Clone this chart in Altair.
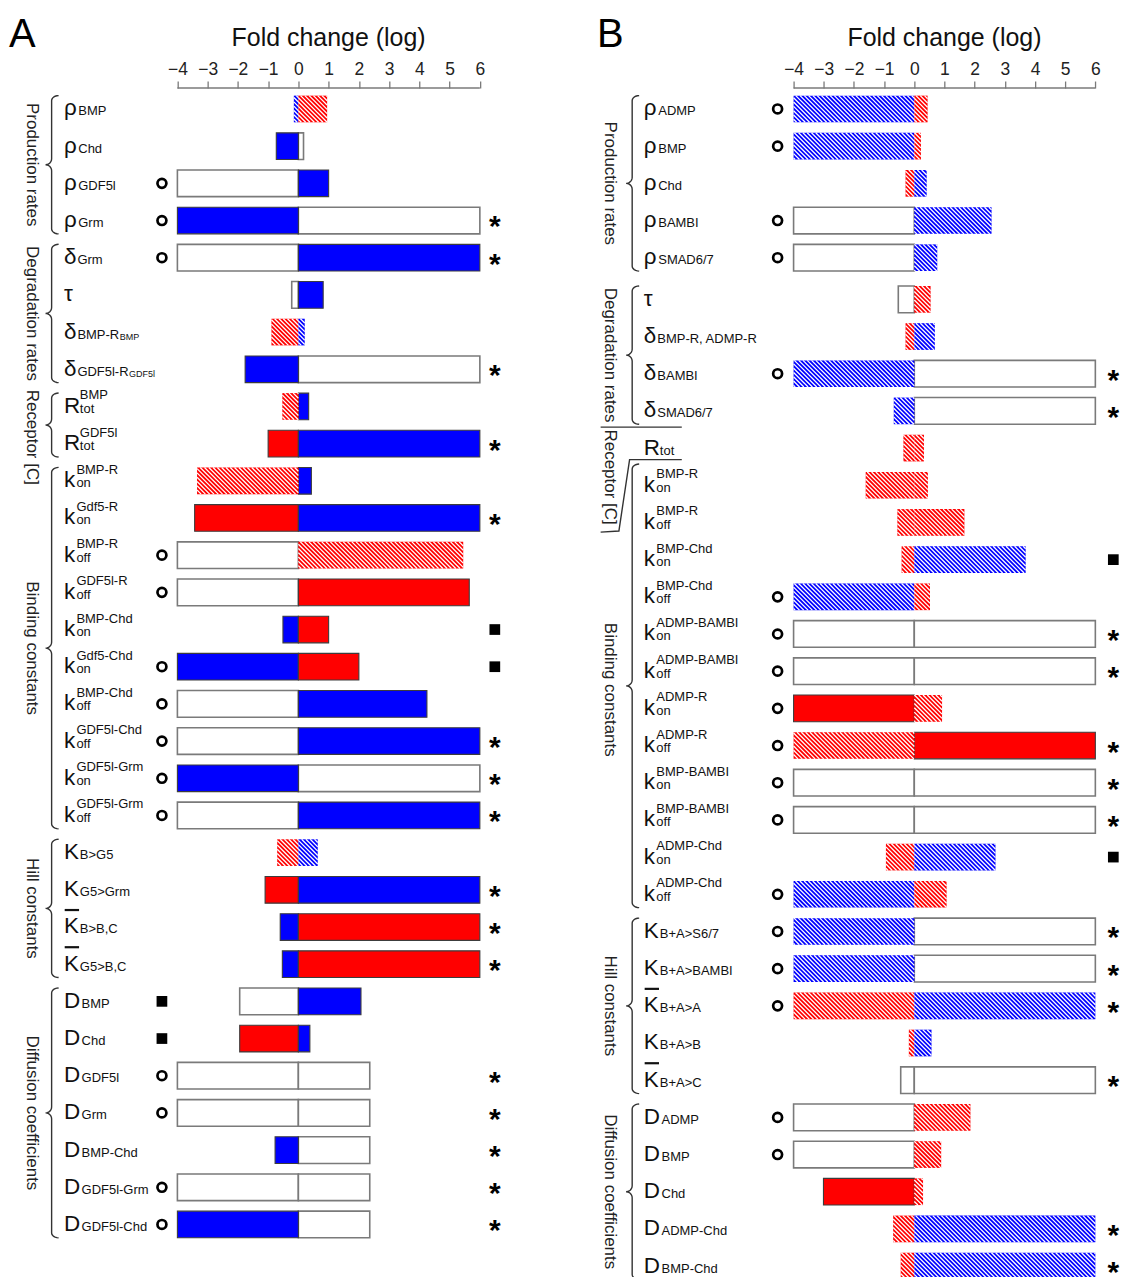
import altair as alt
import pandas as pd
import numpy as np

FONT = "Liberation Sans"
TICKS = [-4, -3, -2, -1, 0, 1, 2, 3, 4, 5, 6]
AXIS_TITLE = "Fold change (log)"

# ---------------- Panel A data ----------------
A_main = ["ρ", "ρ", "ρ", "ρ", "δ", "τ", "δ", "δ", "R", "R",
          "k", "k", "k", "k", "k", "k", "k", "k", "k", "k",
          "K", "K", "K\u0304", "K\u0304", "D", "D", "D", "D", "D", "D", "D"]
A_sub = ["BMP", "Chd", "GDF5l", "Grm", "Grm", "", "BMP-R", "GDF5l-R", "tot", "tot",
         "on", "on", "off", "off", "on", "on", "off", "off", "on", "off",
         "B>G5", "G5>Grm", "B>B,C", "G5>B,C", "BMP", "Chd", "GDF5l", "Grm", "BMP-Chd", "GDF5l-Grm", "GDF5l-Chd"]
A_sup = ["", "", "", "", "", "", "", "", "BMP", "GDF5l",
         "BMP-R", "Gdf5-R", "BMP-R", "GDF5l-R", "BMP-Chd", "Gdf5-Chd", "BMP-Chd", "GDF5l-Chd", "GDF5l-Grm", "GDF5l-Grm",
         "", "", "", "", "", "", "", "", "", "", ""]
A_subsub = ["", "", "", "", "", "", "BMP", "GDF5l"] + [""] * 23
A_left = [-0.15, -0.73, -4, -4, -4, -0.22, -0.89, -1.76, -0.53, -1.0,
          -3.35, -3.43, -4, -4, -0.51, -4, -4, -4, -4, -4,
          -0.70, -1.10, -0.60, -0.53, -1.94, -1.94, -4, -4, -0.77, -4, -4]
A_left_style = ["b", "B", "W", "B", "W", "W", "r", "B", "r", "R",
                "r", "R", "W", "W", "B", "B", "W", "W", "B", "W",
                "r", "R", "B", "B", "W", "R", "W", "W", "B", "W", "B"]
A_right = [0.95, 0.17, 1.0, 6, 6, 0.82, 0.21, 6, 0.34, 6,
           0.43, 6, 5.45, 5.65, 1.0, 2.0, 4.25, 6, 6, 6,
           0.64, 6, 6, 6, 2.07, 0.38, 2.36, 2.36, 2.36, 2.36, 2.36]
A_right_style = ["r", "W", "B", "W", "B", "B", "b", "W", "B", "B",
                 "B", "B", "r", "R", "R", "R", "B", "B", "W", "B",
                 "b", "B", "R", "R", "B", "B", "W", "W", "W", "W", "W"]
A_lmark = ["", "", "o", "o", "o", "", "", "", "", "",
           "", "", "o", "o", "", "o", "o", "o", "o", "o",
           "", "", "", "", "s", "s", "o", "o", "", "o", "o"]
A_rmark = ["", "", "", "*", "*", "", "", "*", "", "*",
           "", "*", "", "", "s", "s", "", "*", "*", "*",
           "", "*", "*", "*", "", "", "*", "*", "*", "*", "*"]
A_groups = [("Production rates", 0, 3), ("Degradation rates", 4, 7), ("Receptor [C]", 8, 9),
            ("Binding constants", 10, 19), ("Hill constants", 20, 23), ("Diffusion coefficients", 24, 30)]

# ---------------- Panel B data ----------------
B_main = ["ρ", "ρ", "ρ", "ρ", "ρ", "τ", "δ", "δ", "δ", "R",
          "k", "k", "k", "k", "k", "k", "k", "k", "k", "k", "k", "k",
          "K", "K", "K\u0304", "K", "K\u0304", "D", "D", "D", "D", "D"]
B_sub = ["ADMP", "BMP", "Chd", "BAMBI", "SMAD6/7", "", "BMP-R, ADMP-R", "BAMBI", "SMAD6/7", "tot",
         "on", "off", "on", "off", "on", "off", "on", "off", "on", "off", "on", "off",
         "B+A>S6/7", "B+A>BAMBI", "B+A>A", "B+A>B", "B+A>C", "ADMP", "BMP", "Chd", "ADMP-Chd", "BMP-Chd"]
B_sup = ["", "", "", "", "", "", "", "", "", "",
         "BMP-R", "BMP-R", "BMP-Chd", "BMP-Chd", "ADMP-BAMBI", "ADMP-BAMBI", "ADMP-R", "ADMP-R",
         "BMP-BAMBI", "BMP-BAMBI", "ADMP-Chd", "ADMP-Chd",
         "", "", "", "", "", "", "", "", "", ""]
B_subsub = [""] * 32
B_left = [-4, -4, -0.29, -4, -4, -0.53, -0.29, -4, -0.68, -0.36,
          -1.61, -0.56, -0.42, -4, -4, -4, -4, -4, -4, -4, -0.94, -4,
          -4, -4, -4, -0.18, -0.45, -4, -4, -3.01, -0.70, -0.45]
B_left_style = ["b", "b", "r", "W", "W", "W", "r", "b", "b", "r",
                "r", "r", "r", "b", "W", "W", "R", "r", "W", "W", "r", "b",
                "b", "b", "r", "r", "W", "W", "W", "R", "r", "r"]
B_right = [0.44, 0.22, 0.41, 2.56, 0.76, 0.54, 0.68, 6, 6, 0.32,
           0.45, 1.66, 3.69, 0.52, 6, 6, 0.92, 6, 6, 6, 2.69, 1.07,
           6, 6, 6, 0.57, 6, 1.86, 0.89, 0.29, 6, 6]
B_right_style = ["r", "r", "b", "b", "b", "r", "b", "W", "W", "r",
                 "r", "r", "b", "r", "W", "W", "r", "R", "W", "W", "b", "r",
                 "W", "W", "b", "b", "W", "r", "r", "r", "b", "b"]
B_lmark = ["o", "o", "", "o", "o", "", "", "o", "", "",
           "", "", "", "o", "o", "o", "o", "o", "o", "o", "", "o",
           "o", "o", "o", "", "", "o", "o", "", "", ""]
B_rmark = ["", "", "", "", "", "", "", "*", "*", "",
           "", "", "s", "", "*", "*", "", "*", "*", "*", "s", "",
           "*", "*", "*", "", "*", "", "", "", "*", "*"]
B_groups = [("Production rates", 0, 4), ("Degradation rates", 5, 8), ("Receptor [C]", 9, 9),
            ("Binding constants", 10, 21), ("Hill constants", 22, 26), ("Diffusion coefficients", 27, 31)]

# ---------------- layout constants ----------------
H = 1269
ROW_PX = 37.25
YMIN = -100.0 / ROW_PX
YMAX = YMIN + H / ROW_PX
HALF = 13.35 / ROW_PX
AXIS_POS = YMIN + 79.0 / ROW_PX

STYLE_DOMAIN = ["B", "R", "W", "b", "r"]
STYLE_FILL = ["#0000ff", "#ff0000", "#ffffff", "#0000ff", "#ff0000"]
SUBDX = {"ρ": 14.4, "δ": 13.5, "τ": 12, "R": 16, "k": 12.5, "K": 16, "D": 17.7}
CHAR_W = {" ": 278, ",": 278, "-": 333, "/": 278, "5": 556, "6": 556, "7": 556, ">": 584, "+": 584,
          "A": 667, "B": 667, "C": 722, "D": 722, "F": 611, "G": 778, "I": 278, "M": 833, "P": 667,
          "R": 722, "S": 667, "K": 667, "d": 556, "f": 278, "h": 556, "l": 222, "m": 833, "n": 556,
          "o": 556, "r": 333, "t": 278}


def text_width(s, size):
    return sum(CHAR_W.get(c, 556) for c in s) * size / 1000.0


def panel(letter, main, sub, sup, subsub, lv, ls, rv, rs, lm, rm, groups, cfg):
    W = cfg["W"]
    kx = (cfg["x6"] - cfg["xm4"]) / 10.0
    xmin = -4 - cfg["xm4"] / kx
    xmax = xmin + W / kx

    def px(p):
        return xmin + p / kx

    def ypx(r):
        return (r - YMIN) * ROW_PX

    n = len(main)
    pos = [i + (cfg["gap"] if i > cfg["gap_after"] else 0) for i in range(n)]

    axis = alt.Axis(orient="top", values=TICKS, offset=-79, domain=False, grid=False,
                    tickSize=7, tickColor="#7a7a7a", tickWidth=1.3,
                    labelFontSize=17.5, labelFont=FONT, labelColor="#222222", labelPadding=3,
                    labelOverlap=False, labelFlush=False, title=None)
    X = alt.X("x:Q", scale=alt.Scale(domain=[xmin, xmax], nice=False, zero=False), axis=axis)
    Y = alt.Y("y:Q", scale=alt.Scale(domain=[YMIN, YMAX], nice=False, zero=False, reverse=True), axis=None)
    fill = alt.Fill("style:N", scale=alt.Scale(domain=STYLE_DOMAIN, range=STYLE_FILL), legend=None)

    # bars
    seg = []
    for i in range(n):
        for v, s in ((lv[i], ls[i]), (rv[i], rs[i])):
            if v == 0:
                continue
            seg.append(dict(x=min(v, 0), x2=max(v, 0), y=pos[i] - HALF, y2=pos[i] + HALF, style=s))
    seg = pd.DataFrame(seg)
    white = seg[seg["style"] == "W"]
    solid = seg[seg["style"].isin(["B", "R"])]
    hatch = seg[seg["style"].isin(["b", "r"])]

    layers = []
    layers.append(alt.Chart(white).mark_rect(stroke="#7a7a7a", strokeWidth=1.6).encode(
        x=X, x2="x2:Q", y=Y, y2="y2:Q", fill=fill))
    layers.append(alt.Chart(solid).mark_rect(stroke="#3c3c3c", strokeWidth=1.1).encode(
        x=X, x2="x2:Q", y=Y, y2="y2:Q", fill=fill))
    layers.append(alt.Chart(hatch).mark_rect(strokeWidth=0).encode(
        x=X, x2="x2:Q", y=Y, y2="y2:Q", fill=fill))

    # hatch stripes
    P = 4.3
    lines = []
    for _, sg in hatch.iterrows():
        X0 = (sg["x"] - xmin) * kx
        X1 = (sg["x2"] - xmin) * kx
        Y0 = ypx(sg["y"])
        Y1 = ypx(sg["y2"])
        for k in range(int(np.floor((X0 - Y1) / P)), int(np.ceil((X1 - Y0) / P)) + 1):
            c = k * P
            ys = max(Y0, X0 - c)
            ye = min(Y1, X1 - c)
            if ye - ys > 0.4:
                lines.append(dict(x=px(c + ys), x2=px(c + ye), y=YMIN + ys / ROW_PX, y2=YMIN + ye / ROW_PX))
    lines = pd.DataFrame(lines)
    layers.append(alt.Chart(lines).mark_rule(color="#ffffff", strokeWidth=1.3).encode(
        x=X, x2="x2:Q", y=Y, y2="y2:Q"))

    # axis line
    axl = pd.DataFrame([dict(x=min(TICKS), x2=max(TICKS), y=AXIS_POS)])
    layers.append(alt.Chart(axl).mark_rule(color="#7a7a7a", strokeWidth=1.3).encode(x=X, x2="x2:Q", y=Y))

    # markers
    circ = pd.DataFrame([dict(x=-4 + cfg["lmark"] / kx, y=pos[i]) for i in range(n) if lm[i] == "o"])
    sq = pd.DataFrame([dict(x=-4 + cfg["lmark"] / kx, y=pos[i]) for i in range(n) if lm[i] == "s"] +
                      [dict(x=6 + cfg["rmark"] / kx, y=pos[i]) for i in range(n) if rm[i] == "s"])
    star = pd.DataFrame([dict(x=6 + cfg["rmark"] / kx, y=pos[i], t="*") for i in range(n) if rm[i] == "*"])
    layers.append(alt.Chart(circ).mark_point(shape="circle", filled=False, size=80, strokeWidth=2.7,
                                             color="#000000", opacity=1).encode(x=X, y=Y))
    if len(sq):
        layers.append(alt.Chart(sq).mark_point(shape="square", filled=True, size=115,
                                               color="#000000", opacity=1).encode(x=X, y=Y))
    layers.append(alt.Chart(star).mark_text(font=FONT, fontSize=30, fontWeight="bold", align="center",
                                            baseline="alphabetic", dy=16, color="#000000").encode(
        x=X, y=Y, text="t:N"))

    # row labels
    lp = cfg["label"]
    mains, subs, sups, subsubs, bars = [], [], [], [], []
    for i in range(n):
        m = main[i]
        has_bar = m.endswith("\u0304")
        base = m.replace("\u0304", "")
        mains.append(dict(x=px(lp), y=pos[i], t=base))
        sdx = SUBDX[base]
        if sub[i]:
            subs.append(dict(x=px(lp + sdx), y=pos[i], t=sub[i]))
        if sup[i]:
            sups.append(dict(x=px(lp + sdx), y=pos[i], t=sup[i]))
        if subsub[i]:
            subsubs.append(dict(x=px(lp + sdx + text_width(sub[i], 13) + 0.5), y=pos[i], t=subsub[i]))
        if has_bar:
            bars.append(dict(x=px(lp + 0.8), x2=px(lp + 15.2), y=pos[i] - 17.0 / ROW_PX))
    layers.append(alt.Chart(pd.DataFrame(mains)).mark_text(
        font=FONT, fontSize=22.5, align="left", baseline="alphabetic", dy=6.5, color="#111111").encode(
        x=X, y=Y, text="t:N"))
    layers.append(alt.Chart(pd.DataFrame(subs)).mark_text(
        font=FONT, fontSize=13, align="left", baseline="alphabetic", dy=6.5, color="#111111").encode(
        x=X, y=Y, text="t:N"))
    if sups:
        layers.append(alt.Chart(pd.DataFrame(sups)).mark_text(
            font=FONT, fontSize=13, align="left", baseline="alphabetic", dy=-7, color="#111111").encode(
            x=X, y=Y, text="t:N"))
    if subsubs:
        layers.append(alt.Chart(pd.DataFrame(subsubs)).mark_text(
            font=FONT, fontSize=9, align="left", baseline="alphabetic", dy=7.5, color="#111111").encode(
            x=X, y=Y, text="t:N"))
    if bars:
        layers.append(alt.Chart(pd.DataFrame(bars)).mark_rule(color="#111111", strokeWidth=2.2).encode(
            x=X, x2="x2:Q", y=Y))

    # braces and group labels
    bp = cfg["brace"]
    pts = []
    glab_c, glab_l = [], []
    for gi, (name, s, e) in enumerate(groups):
        top_r = pos[s] - 0.36
        bot_r = pos[e] + 0.36
        if cfg.get("receptor_box") and s == e:
            # boxed label instead of brace
            r9 = pos[s]
            seq = [(41.7, r9 - 0.564), (123, r9 - 0.564)]
            pts += [dict(g=f"rb{gi}a", o=j, x=px(a), y=b) for j, (a, b) in enumerate(seq)]
            seq = [(123, r9 + 0.31), (70.7, r9 + 0.31), (60, r9 + 2.23), (41.7, r9 + 2.26)]
            pts += [dict(g=f"rb{gi}b", o=j, x=px(a), y=b) for j, (a, b) in enumerate(seq)]
            glab_l.append(dict(x=px(cfg["group"]), y=r9 - 0.5, t=name))
            continue
        if cfg.get("receptor_box") and gi > 0 and groups[gi - 1][1] == groups[gi - 1][2]:
            top_r = pos[s] - 0.57
        T = ypx(top_r)
        Bt = ypx(bot_r)
        M = (T + Bt) / 2
        hx, hy, cr = 7.0, 5.0, 6.0
        path = []
        for t in np.linspace(-np.pi / 2, -np.pi, 7):
            path.append((bp + hx + hx * np.cos(t), T + hy + hy * np.sin(t)))
        for t in np.linspace(0, np.pi / 2, 7):
            path.append((bp - cr + cr * np.cos(t), M - cr + cr * np.sin(t)))
        for t in np.linspace(-np.pi / 2, 0, 7):
            path.append((bp - cr + cr * np.cos(t), M + cr + cr * np.sin(t)))
        for t in np.linspace(np.pi, np.pi / 2, 7):
            path.append((bp + hx + hx * np.cos(t), Bt - hy + hy * np.sin(t)))
        pts += [dict(g=f"g{gi}", o=j, x=px(a), y=YMIN + b / ROW_PX) for j, (a, b) in enumerate(path)]
        if name.startswith("Receptor"):
            glab_l.append(dict(x=px(cfg["group"]), y=pos[s] - 0.45, t=name))
        else:
            glab_c.append(dict(x=px(cfg["group"]), y=(pos[s] + pos[e]) / 2, t=name))
    layers.append(alt.Chart(pd.DataFrame(pts)).mark_line(color="#333333", strokeWidth=1.4).encode(
        x=X, y=Y, detail="g:N", order="o:Q"))
    layers.append(alt.Chart(pd.DataFrame(glab_c)).mark_text(
        font=FONT, fontSize=17, angle=90, align="center", baseline="middle", color="#222222").encode(
        x=X, y=Y, text="t:N"))
    layers.append(alt.Chart(pd.DataFrame(glab_l)).mark_text(
        font=FONT, fontSize=17, angle=90, align="left", baseline="middle", color="#222222").encode(
        x=X, y=Y, text="t:N"))

    # title and panel letter
    ttl = pd.DataFrame([dict(x=(min(TICKS) + max(TICKS)) / 2, y=YMIN + 37.0 / ROW_PX, t=AXIS_TITLE)])
    layers.append(alt.Chart(ttl).mark_text(font=FONT, fontSize=25, align="center", baseline="alphabetic",
                                           color="#111111").encode(x=X, y=Y, text="t:N"))
    let = pd.DataFrame([dict(x=px(cfg["letter"]), y=YMIN + 37.5 / ROW_PX, t=letter)])
    layers.append(alt.Chart(let).mark_text(font=FONT, fontSize=40, align="left", baseline="alphabetic",
                                           color="#000000").encode(x=X, y=Y, text="t:N"))

    return alt.layer(*layers).properties(width=W, height=H)


cfgA = dict(W=552, xm4=169.7, x6=472.7, label=56, brace=43.7, group=24.3, letter=1,
            lmark=-15.5, rmark=15.0, gap=0.0, gap_after=10**6)
cfgB = dict(W=560, xm4=235.0, x6=537.3, label=85, brace=73.3, group=51.0, letter=38,
            lmark=-16.0, rmark=18.0, gap=0.12, gap_after=4, receptor_box=True)

chA = panel("A", A_main, A_sub, A_sup, A_subsub, A_left, A_left_style, A_right, A_right_style,
            A_lmark, A_rmark, A_groups, cfgA)
chB = panel("B", B_main, B_sub, B_sup, B_subsub, B_left, B_left_style, B_right, B_right_style,
            B_lmark, B_rmark, B_groups, cfgB)

chart = alt.hconcat(chA, chB, spacing=0, bounds="flush", padding=0).configure_view(stroke=None)
chart.save("out.html", embed_options={"renderer": "svg", "actions": False})
